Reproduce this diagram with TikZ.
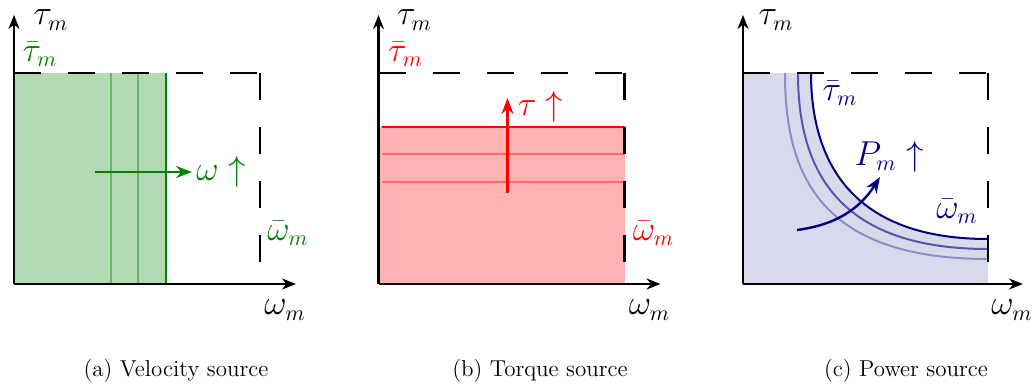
\documentclass[tikz,border=0pt]{standalone}
\usepackage{tikz}
\usetikzlibrary{arrows.meta, positioning}
\definecolor{navyline}{rgb}{0,0,0.5}
\definecolor{darkgreen}{rgb}{0,0.5,0}
\tikzstyle{axis} = [line width=1.2pt, -{Stealth[length=7pt, width=5.5pt]}]
\tikzstyle{limit} = [line width=1.2pt, dash pattern=on 13.5pt off 13.5pt]
\tikzstyle{lab} = [font=\fontsize{16}{19}\selectfont, inner sep=2pt]
\tikzstyle{capt} = [font=\fontsize{11.5}{14}\selectfont]
\tikzstyle{trend} = [line width=1.2pt, -{Stealth[length=8pt, width=6pt]}]

\begin{document}
\begin{tikzpicture}[x=0.5pt, y=0.5pt]
    \useasboundingbox (0,-103) rectangle (1033,284);

    % (a) velocity source
    \begin{scope}[shift={(14,0)}]
        \coordinate (a0) at (0,0);
        \coordinate (ax) at (282,0);
        \coordinate (ay) at (0,269);
        \coordinate (atl) at (0,211);
        \coordinate (atr) at (246,211);
        \coordinate (abr) at (246,0);
        \fill[darkgreen!30] (0,0) rectangle (152,211);
        \foreach \xv/\op in {97/0.4, 124/0.4, 152/1}
            \draw[darkgreen, line width=1pt, opacity=\op] (\xv,0) -- (\xv,211);
        \draw[limit] (atl) -- (atr);
        \draw[limit] (atr) -- (abr);
        \draw[axis] (a0) -- (ax);
        \draw[axis] (a0) -- (ay);
        \coordinate (aw0) at (81,112);
        \node (awup) [lab, text=darkgreen, anchor=west] at (178,112) {$\omega \uparrow$};
        \draw[trend, darkgreen] (aw0) -- (awup.west);
        \node (atau) [lab] at (37,264) {$\tau_m$};
        \node (aom) [lab] at (271,-26) {$\omega_m$};
        \node (ataubar) [lab, text=darkgreen] at (26,230) {$\bar{\tau}_m$};
        \node (aombar) [lab, text=darkgreen] at (274,51) {$\bar{\omega}_m$};
        \node (acap) [capt] at (162,-87) {(a) Velocity source};
    \end{scope}

    % (b) torque source
    \begin{scope}[shift={(378.5,0)}]
        \coordinate (b0) at (0,0);
        \coordinate (bx) at (282,0);
        \coordinate (by) at (0,269);
        \coordinate (btl) at (0,211);
        \coordinate (btr) at (246,211);
        \coordinate (bbr) at (246,0);
        \fill[red!30] (0,0) rectangle (246,157);
        \foreach \yv/\op in {102/0.4, 130/0.4, 157/1}
            \draw[red, line width=1pt, opacity=\op] (3,\yv) -- (246,\yv);
        \draw[limit] (btl) -- (btr);
        \draw[limit] (btr) -- (bbr);
        \draw[axis] (b0) -- (bx);
        \draw[axis] (b0) -- (by);
        \coordinate (bt0) at (129,91);
        \coordinate (bt1) at (129,186);
        \draw[trend, red] (bt0) -- (bt1);
        \node (btup) [lab, text=red] at (162,177) {$\tau \uparrow$};
        \node (btau) [lab] at (36,264) {$\tau_m$};
        \node (bom) [lab] at (271,-26) {$\omega_m$};
        \node (btaubar) [lab, text=red] at (27,230) {$\bar{\tau}_m$};
        \node (bombar) [lab, text=red] at (275,51) {$\bar{\omega}_m$};
        \node (bcap) [capt] at (161.5,-87) {(b) Torque source};
    \end{scope}

    % (c) power source
    \begin{scope}[shift={(743,0)}]
        \coordinate (c0) at (0,0);
        \coordinate (cx) at (280,0);
        \coordinate (cy) at (0,269);
        \coordinate (ctl) at (0,211);
        \coordinate (ctr) at (245,211);
        \coordinate (cbr) at (245,0);
        \fill[navyline!15] (0,0) -- (0,211) -- (68,211)
            .. controls (68,134) and (99,45) .. (245,45) -- (245,0) -- cycle;
        \foreach \dx/\dy/\op in {26/20/0.35, 13/10/0.6, 0/0/1}
            \draw[navyline, line width=1pt, opacity=\op] (68-\dx,211)
                .. controls (68-\dx,134-\dy) and (99-\dx,45-\dy) .. (245,45-\dy);
        \draw[limit] (ctl) -- (ctr);
        \draw[limit] (ctr) -- (cbr);
        \draw[axis] (c0) -- (cx);
        \draw[axis] (c0) -- (cy);
        \coordinate (cp0) at (54,54);
        \coordinate (cp1) at (137,107);
        \draw[trend, navyline] (cp0) to[bend right=25] (cp1);
        \node (cpup) [lab, text=navyline] at (146,127) {$P_m \uparrow$};
        \node (ctau) [lab] at (33,264) {$\tau_m$};
        \node (com) [lab] at (269,-26) {$\omega_m$};
        \node (ctaubar) [lab, text=navyline] at (97,191) {$\bar{\tau}_m$};
        \node (combar) [lab, text=navyline] at (214,73) {$\bar{\omega}_m$};
        \node (ccap) [capt] at (163,-87) {(c) Power source};
    \end{scope}
\end{tikzpicture}
\end{document}
